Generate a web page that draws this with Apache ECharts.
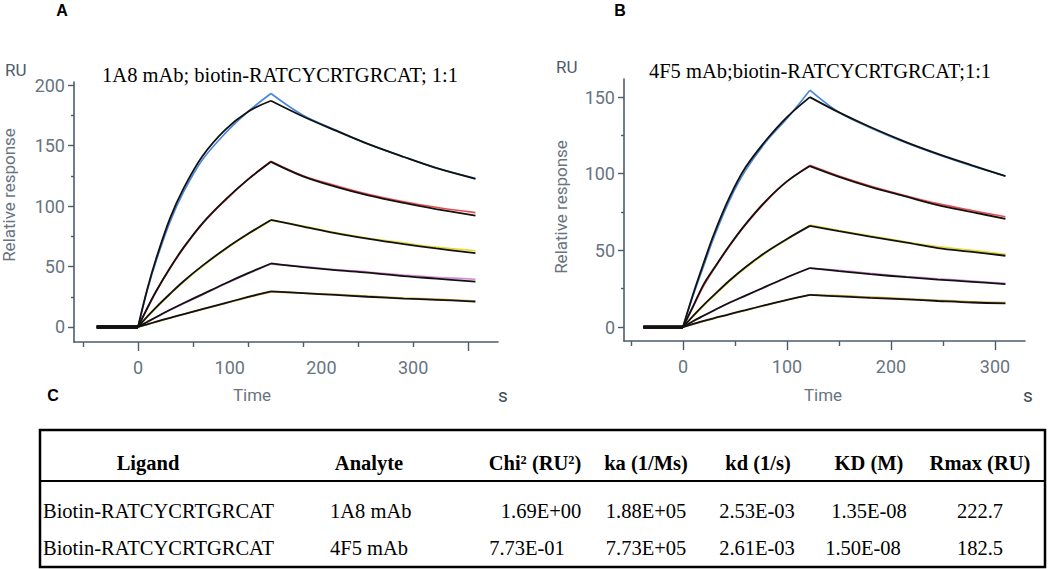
<!DOCTYPE html>
<html>
<head>
<meta charset="utf-8">
<title>SPR kinetics - 1A8 / 4F5 mAb</title>
<script src="https://cdn.jsdelivr.net/npm/echarts@6/dist/echarts.min.js"></script>
<style>
  html, body { margin: 0; padding: 0; background: #fff; }
  #chart { width: 1050px; height: 569px; }
</style>
</head>
<body>
<div id="chart"></div>
<script>
'use strict';

// panel A: 1A8 mAb (s, RU)
const timeA = [-45, 0, 10, 20, 35, 50, 70, 95, 120, 145, 180, 215, 250, 290, 325, 368];
const peakA = 145;
const dataA = [
  [0, 0, 30, 55, 87, 112, 138, 160, 178, 193, 175, 163, 151.5, 140.5, 131.5, 123],
  [0, 0, 15, 29.5, 48.5, 65.5, 85, 104.5, 122, 137, 125, 117, 110, 103.5, 99, 94.5],
  [0, 0, 8, 16, 27, 37.5, 50, 64, 76.5, 88, 83.5, 78, 73.5, 69.5, 66, 63],
  [0, 0, 4, 8, 14, 19.5, 26.5, 35.5, 44, 52, 50, 47.5, 45.5, 43, 41, 39.5],
  [0, 0, 2, 4.2, 7.4, 10.5, 14.5, 19.5, 24.5, 29, 28, 27, 25.5, 24, 23, 21.5]
];
const fitA = [
  [0, 0, 31, 57, 90, 115, 141, 163, 178, 187, 174, 162.5, 151.5, 140.5, 131.5, 122.5],
  [0, 0, 15.5, 30, 49, 66, 85.5, 105, 122, 136.5, 124.5, 116, 109, 102.5, 97.5, 92],
  [0, 0, 8.5, 16.5, 27.5, 38, 50.5, 64.5, 77, 88.5, 83, 77.5, 73, 68.5, 65, 61],
  [0, 0, 4.2, 8.3, 14.2, 19.8, 27, 36, 44.5, 52.5, 49.5, 47, 45, 42, 40, 37.5],
  [0, 0, 2.2, 4.4, 7.6, 10.7, 14.8, 19.8, 24.8, 29.5, 28, 26.5, 25, 23.5, 22.5, 21]
];

// panel B: 4F5 mAb (s, RU)
const timeB = [-38, 0, 10, 20, 30, 45, 60, 80, 100, 122, 150, 180, 215, 245, 278, 310];
const peakB = 122;
const dataB = [
  [0, 0, 21, 40, 59, 83, 102, 121, 136, 154.5, 140, 130, 120, 112.5, 105, 98.5],
  [0, 0, 13.5, 27, 38, 53, 66.5, 82, 95, 105.5, 98.5, 92, 85.5, 80.5, 76, 72],
  [0, 0, 7, 14, 20.5, 30, 38.5, 48.5, 57, 66.5, 63, 59.5, 55.5, 52.5, 50, 47.5],
  [0, 0, 3.8, 7.3, 10.8, 15.8, 20.3, 26.3, 32.3, 38.5, 37, 35, 33, 31.5, 30, 28.5],
  [0, 0, 1.8, 3.8, 5.6, 8.3, 10.8, 14.3, 17.6, 21, 20.5, 19.5, 18.5, 17.5, 16.5, 16]
];
const fitB = [
  [0, 0, 22, 42, 61, 85, 104, 122, 137, 150, 140, 130.5, 120.5, 113, 105.5, 98.5],
  [0, 0, 14, 28, 38.5, 53.5, 67, 82.5, 95, 105, 98, 91.5, 85, 79.5, 75, 70.5],
  [0, 0, 7.5, 14.5, 21, 30.5, 39, 49, 57.5, 66, 62.5, 59, 55, 51.5, 49, 46.5],
  [0, 0, 4, 7.5, 11, 16, 20.5, 26.5, 32.5, 38.5, 36.5, 34.5, 32.5, 31, 29.5, 28],
  [0, 0, 2, 4, 5.8, 8.5, 11, 14.5, 17.8, 21, 20, 19, 18, 17, 16, 15.5]
];

// tick labels
const yLabelsA = [0, 50, 100, 150, 200];
const yLabelsB = [0, 50, 100, 150];
const xLabels = [0, 100, 200, 300];

const titleA = '1A8 mAb; biotin-RATCYCRTGRCAT; 1:1';
const titleB = '4F5 mAb;biotin-RATCYCRTGRCAT;1:1';

// kinetics table (panel C)
const tableHeaders = ['Ligand', 'Analyte', 'Chi\u00b2 (RU\u00b2)', 'ka (1/Ms)', 'kd (1/s)', 'KD (M)', 'Rmax (RU)'];
const tableRows = [
  ['Biotin-RATCYCRTGRCAT', '1A8 mAb', '1.69E+00', '1.88E+05', '2.53E-03', '1.35E-08', '222.7'],
  ['Biotin-RATCYCRTGRCAT', '4F5 mAb', '7.73E-01', '7.73E+05', '2.61E-03', '1.50E-08', '182.5']
];

const curveColors = ['#4a86d8', '#f04a4a', '#e6da2e', '#d68ad6', '#d4a238'];
const axisColor = '#4e5c6a';
const labelColor = '#68747f';
const serif = '"Liberation Serif", "Times New Roman", serif';
const sans = 'Roboto, "Liberation Sans", sans-serif';

function segment(times, values, from, to) {
  const out = [];
  times.forEach((t, i) => {
    if (t >= from && t <= to) out.push([t, values[i]]);
  });
  return out;
}

// baseline, association and dissociation drawn apart so the peak keeps its corner
function curveSeries(axis, times, peak, values, color, width, z) {
  const parts = [
    [times[0], 0, false, width + 1],
    [0, peak, true, width],
    [peak, times[times.length - 1], true, width]
  ];
  return parts.map(([from, to, smooth, w]) => ({
    type: 'line',
    xAxisIndex: axis,
    yAxisIndex: axis,
    data: segment(times, values, from, to),
    smooth: smooth ? 0.35 : false,
    symbol: 'none',
    silent: true,
    z: z,
    lineStyle: { color: color, width: w }
  }));
}

function xAxisPair(grid, min, max, longTicks, shortTicks) {
  const base = { type: 'value', gridIndex: grid, position: 'bottom', min: min, max: max, splitLine: { show: false } };
  return [
    Object.assign({}, base, {
      axisLine: { onZero: false, lineStyle: { color: axisColor, width: 1.6 } },
      axisTick: { customValues: longTicks, length: 9, lineStyle: { color: axisColor, width: 1.4 } },
      axisLabel: { customValues: xLabels, margin: 16, color: labelColor, fontFamily: sans, fontSize: 18 }
    }),
    Object.assign({}, base, {
      axisLine: { show: false, onZero: false },
      axisTick: { customValues: shortTicks, length: 5, lineStyle: { color: axisColor, width: 1.4 } },
      axisLabel: { show: false }
    })
  ];
}

function yAxisPair(grid, min, max, labels, minorTicks) {
  const base = { type: 'value', gridIndex: grid, position: 'left', min: min, max: max, splitLine: { show: false } };
  return [
    Object.assign({}, base, {
      axisLine: { onZero: false, lineStyle: { color: axisColor, width: 1.6 } },
      axisTick: { customValues: labels, length: 6, lineStyle: { color: axisColor, width: 1.4 } },
      axisLabel: { customValues: labels, margin: 9, color: labelColor, fontFamily: sans, fontSize: 18 }
    }),
    Object.assign({}, base, {
      axisLine: { show: false, onZero: false },
      axisTick: { customValues: minorTicks, length: 3, lineStyle: { color: axisColor, width: 1.4 } },
      axisLabel: { show: false }
    })
  ];
}

function text(str, x, y, style, rotation) {
  return {
    type: 'text', x: x, y: y, rotation: rotation || 0, silent: true,
    style: Object.assign({ text: str, fill: '#000', textAlign: 'center', textVerticalAlign: 'middle' }, style)
  };
}

function panelTexts(o) {
  return [
    text(o.letter, o.letterX, 10, { fontFamily: '"Liberation Sans", Arial, sans-serif', fontWeight: 'bold', fontSize: 16 }),
    text(o.title, o.titleX, o.titleY, { fontFamily: serif, fontSize: 20.5 }),
    text('RU', o.ruX, o.ruY, { textAlign: 'left', fill: axisColor, fontFamily: sans, fontSize: 17 }),
    text('Relative response', o.relX, o.relY, { fill: labelColor, fontFamily: sans, fontSize: 17 }, Math.PI / 2),
    text('Time', o.timeX, 395, { fill: labelColor, fontFamily: sans, fontSize: 17 }),
    text('s', o.sX, 395, { fill: '#3e4a56', fontFamily: sans, fontSize: 19 })
  ];
}

function tableGraphics() {
  const els = [
    { type: 'rect', silent: true, shape: { x: 40, y: 430, width: 1005, height: 137 }, style: { fill: 'none', stroke: '#000', lineWidth: 2.5 } },
    { type: 'line', silent: true, shape: { x1: 40, y1: 481, x2: 1045, y2: 481 }, style: { stroke: '#000', lineWidth: 2 } }
  ];
  const headX = [148, 369, 535, 646, 758, 869, 980];
  tableHeaders.forEach((h, i) => {
    els.push(text(h, headX[i], 463, { fontFamily: serif, fontWeight: 'bold', fontSize: 20.5 }));
  });
  const cellX = [[43, 330, 541, 646, 757, 869, 980], [43, 330, 527, 646, 757, 863, 980]];
  const rowY = [511, 548];
  tableRows.forEach((row, r) => {
    row.forEach((v, i) => {
      els.push(text(v, cellX[r][i], rowY[r], { fontFamily: serif, fontSize: 20.5, textAlign: i < 2 ? 'left' : 'center' }));
    });
  });
  return els;
}

const series = [];
[[0, timeA, peakA, dataA, fitA], [2, timeB, peakB, dataB, fitB]].forEach(([axis, times, peak, data, fit]) => {
  data.forEach((vals, i) => series.push(...curveSeries(axis, times, peak, vals, curveColors[i], 1.6, 2)));
  fit.forEach(vals => series.push(...curveSeries(axis, times, peak, vals, '#111', 1.8, 3)));
});

const chart = echarts.init(document.getElementById('chart'), null, { renderer: 'svg' });
chart.setOption({
  animation: false,
  backgroundColor: '#fff',
  grid: [
    { left: 74, top: 82, width: 424, height: 260 },
    { left: 624, top: 79, width: 401, height: 262 }
  ],
  xAxis: [
    ...xAxisPair(0, -69.8, 392.6, [0, 360], [-60, 60, 120, 180, 240, 300]),
    ...xAxisPair(1, -56.7, 328.8, [0, 100, 200, 300], [-50, 50, 150, 250])
  ],
  yAxis: [
    ...yAxisPair(0, -12.4, 202.5, yLabelsA, [25, 75, 125, 175]),
    ...yAxisPair(1, -9.1, 161.8, yLabelsB, [25, 75, 125])
  ],
  series: series,
  graphic: [
    ...panelTexts({ letter: 'A', letterX: 62, title: titleA, titleX: 280, titleY: 75, ruX: 5, ruY: 70,
      relX: 9, relY: 195, timeX: 252, sX: 503 }),
    ...panelTexts({ letter: 'B', letterX: 620, title: titleB, titleX: 820, titleY: 71, ruX: 556, ruY: 67,
      relX: 561, relY: 207, timeX: 823, sX: 1028 }),
    text('C', 53, 395, { fontFamily: '"Liberation Sans", Arial, sans-serif', fontWeight: 'bold', fontSize: 16 }),
    ...tableGraphics()
  ]
});
</script>
</body>
</html>
